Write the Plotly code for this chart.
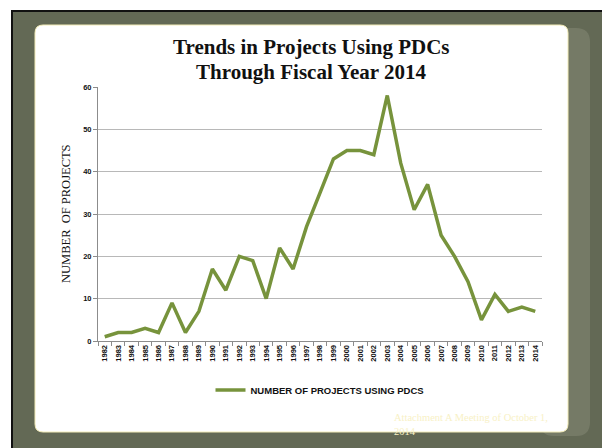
import plotly.graph_objects as go

years = [str(y) for y in range(1982, 2015)]
projects = [1, 2, 2, 3, 2, 9, 2, 7, 17, 12, 20, 19, 10, 22, 17, 27, 35, 43,
            45, 45, 44, 58, 42, 31, 37, 25, 20, 14, 5, 11, 7, 8, 7]
y_ticks = [0, 10, 20, 30, 40, 50, 60]

W, H = 602, 448
L, R, T, B = 98, 542, 87, 341


def px(x):
    return (x - L) / (R - L)


def py(y):
    return (B - y) / (B - T)


def rrect(x0, y0, x1, y1, r):
    X0, X1 = px(x0), px(x1)
    Y0, Y1 = py(y0), py(y1)
    rx = r / (R - L)
    ry = r / (B - T)
    return (f"M {X0+rx},{Y0} L {X1-rx},{Y0} Q {X1},{Y0} {X1},{Y0-ry} "
            f"L {X1},{Y1+ry} Q {X1},{Y1} {X1-rx},{Y1} L {X0+rx},{Y1} "
            f"Q {X0},{Y1} {X0},{Y1+ry} L {X0},{Y0-ry} Q {X0},{Y0} {X0+rx},{Y0} Z")


fig = go.Figure()
fig.add_trace(go.Scatter(
    x=years, y=projects, mode="lines",
    line=dict(color="#77933C", width=3.5),
    name="NUMBER OF PROJECTS USING PDCS",
))

shapes = [
    dict(type="rect", xref="paper", yref="paper",
         x0=px(11), x1=px(605), y0=py(10), y1=py(452),
         fillcolor="#111111", line=dict(width=0), layer="below"),
    dict(type="rect", xref="paper", yref="paper",
         x0=px(13), x1=px(605), y0=py(12), y1=py(452),
         fillcolor="#636955", line=dict(width=0), layer="below"),
    dict(type="path", xref="paper", yref="paper",
         path=rrect(540, 28, 590, 436, 14),
         fillcolor="rgba(140,145,125,0.45)", line=dict(width=0), layer="below"),
    dict(type="path", xref="paper", yref="paper",
         path=rrect(35, 25, 568, 432, 8),
         fillcolor="#ffffff", line=dict(color="#f3ecb8", width=1), layer="below"),
]

annotations = [
    dict(text="<b>Trends in Projects Using PDCs</b>", xref="paper", yref="paper",
         x=px(311), y=py(47), showarrow=False,
         font=dict(family="Liberation Serif", size=21, color="#111111"),
         xanchor="center", yanchor="middle"),
    dict(text="<b>Through Fiscal Year 2014</b>", xref="paper", yref="paper",
         x=px(311), y=py(72), showarrow=False,
         font=dict(family="Liberation Serif", size=21, color="#111111"),
         xanchor="center", yanchor="middle"),
    dict(text="NUMBER  OF PROJECTS", xref="paper", yref="paper",
         x=px(66), y=py(214), showarrow=False, textangle=-90,
         font=dict(family="Liberation Serif", size=12.5, color="#111111"),
         xanchor="center", yanchor="middle"),
    dict(text="Attachment A Meeting of October 1,<br>2014", xref="paper", yref="paper",
         x=px(392), y=py(410), showarrow=False, align="left",
         font=dict(family="Liberation Serif", size=10.5, color="#f8f1c6"),
         xanchor="left", yanchor="top"),
]

fig.update_layout(
    width=W, height=H,
    margin=dict(l=L, r=W - R, t=T, b=H - B, pad=0),
    paper_bgcolor="#ffffff",
    plot_bgcolor="rgba(0,0,0,0)",
    shapes=shapes,
    annotations=annotations,
    showlegend=True,
    legend=dict(orientation="h", x=px(320), y=py(390), xanchor="center",
                yanchor="middle", bgcolor="rgba(0,0,0,0)",
                font=dict(family="Liberation Sans", size=9.5, color="#111111",
                          weight="bold"),
                itemwidth=30),
    xaxis=dict(type="category", range=[-0.5, len(years) - 0.5],
               tickangle=-90, tickfont=dict(family="Liberation Sans", size=7.5,
                                            color="#111111", weight="bold"),
               showline=True, linecolor="#8c8c8c", linewidth=1,
               ticks="outside", ticklen=4, tickcolor="#8c8c8c",
               tickson="boundaries", showgrid=False, fixedrange=True),
    yaxis=dict(range=[0, 60], tickvals=y_ticks,
               tickfont=dict(family="Liberation Sans", size=7.5,
                             color="#111111", weight="bold"),
               showline=True, linecolor="#8c8c8c", linewidth=1,
               ticks="outside", ticklen=4, tickcolor="#8c8c8c",
               showgrid=True, gridcolor="#b8b8b8", gridwidth=1,
               zeroline=False, fixedrange=True),
)

fig.write_html("out.html",
               config={"displayModeBar": False},
               post_script="document.body.style.margin='0';"
                           "document.body.style.overflow='hidden';")
